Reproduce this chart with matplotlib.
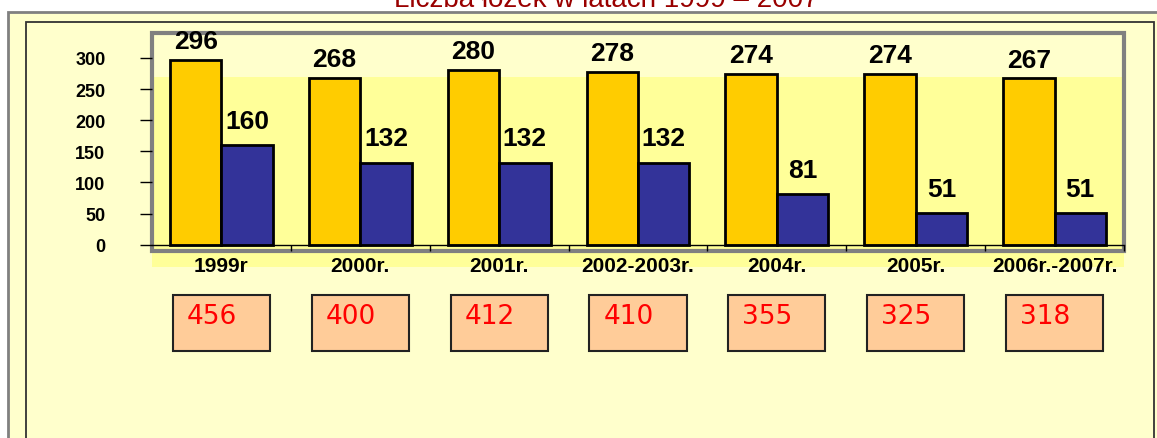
import matplotlib
matplotlib.use('Agg')
import matplotlib.pyplot as plt
from matplotlib.patches import Rectangle
from matplotlib.transforms import blended_transform_factory
import numpy as np

# data
years = ['1999r', '2000r.', '2001r.', '2002-2003r.', '2004r.', '2005r.', '2006r.-2007r.']
orange_vals = [296, 268, 280, 278, 274, 274, 267]
blue_vals = [160, 132, 132, 132, 81, 51, 51]
totals = [456, 400, 412, 410, 355, 325, 318]
title = 'Liczba łóżek w latach 1999 – 2007'

W, H = 1157, 439
fig = plt.figure(figsize=(W / 100, H / 100), dpi=100)
fig.patch.set_facecolor('white')

# slide-like background frames
fig.patches.append(Rectangle((8 / W, -0.1), 1.2, (1 - 13 / H) + 0.1, transform=fig.transFigure,
                             facecolor='#FFFFCC', edgecolor='#808080', lw=2, zorder=-5))
fig.patches.append(Rectangle((26 / W, -0.1), (1154 - 26) / W, (1 - 23 / H) + 0.1,
                             transform=fig.transFigure, fill=False, edgecolor='#333333',
                             lw=1.3, zorder=-4))

fig.text(606 / W, 1 - 7 / H, title, ha='center', va='baseline', fontsize=20,
         color='#990000', family='Liberation Sans')

ax = fig.add_axes([152 / W, 1 - 252 / H, (1124 - 152) / W, (252 - 34) / H])
ax.set_facecolor('none')

x = np.arange(len(years))
w = 0.37

# lighter yellow band behind the bars
band_tr = blended_transform_factory(ax.transAxes, ax.transData)
ax.add_patch(Rectangle((0, -35), 1, 305, transform=band_tr, facecolor='#FFFF99',
                       edgecolor='none', clip_on=False, zorder=0))
ax.add_patch(Rectangle((0, 0), 1, 1, transform=ax.transAxes, fill=False,
                       edgecolor='#808080', lw=3, clip_on=False, zorder=1))

ax.bar(x - w / 2, orange_vals, w, color='#FFCC00', edgecolor='black', linewidth=2, zorder=3)
ax.bar(x + w / 2, blue_vals, w, color='#333399', edgecolor='black', linewidth=2, zorder=3)

for i in range(len(years)):
    ax.annotate(str(orange_vals[i]), (x[i] - w / 2, orange_vals[i]), xytext=(0, 5),
                textcoords='offset points', ha='center', va='bottom', fontsize=19,
                fontweight='bold', family='Liberation Sans', zorder=4)
    ax.annotate(str(blue_vals[i]), (x[i] + w / 2, blue_vals[i]), xytext=(0, 9),
                textcoords='offset points', ha='center', va='bottom', fontsize=19,
                fontweight='bold', family='Liberation Sans', zorder=4)

ax.set_xlim(-0.5, len(years) - 0.5)
ax.set_ylim(-10, 340)
ax.set_yticks([0, 50, 100, 150, 200, 250, 300])
ax.set_xticks(x)
ax.set_xticklabels(years)
ax.set_xticks(np.arange(0.5, len(years)), minor=True)

for s in ['left', 'top', 'right']:
    ax.spines[s].set_visible(False)
ax.spines['bottom'].set_position(('data', 0))
ax.spines['bottom'].set_color('black')
ax.spines['bottom'].set_linewidth(1)
ax.spines['bottom'].set_zorder(5)

ax.tick_params(axis='y', direction='out', length=8.5, width=1, pad=25, labelsize=13)
ax.tick_params(axis='x', which='major', length=0, pad=8, labelsize=15)
ax.tick_params(axis='x', which='minor', direction='out', length=4, width=1)
for lab in ax.get_yticklabels() + ax.get_xticklabels():
    lab.set_fontweight('bold')
    lab.set_family('Liberation Sans')

# boxes with totals under each category
box_tr = blended_transform_factory(ax.transData, fig.transFigure)
for i, t in enumerate(totals):
    ax.add_patch(Rectangle((x[i] - 0.35, 1 - 352 / H), 0.70, 56 / H, transform=box_tr,
                           facecolor='#FFCC99', edgecolor='#222222', lw=1.5, clip_on=False))
    ax.text(x[i] - 0.25, 1 - 317 / H, str(t), transform=box_tr, ha='left', va='center',
            fontsize=19, color='#FF0000', family='DejaVu Sans', clip_on=False)

plt.savefig('out.png', dpi=100)
